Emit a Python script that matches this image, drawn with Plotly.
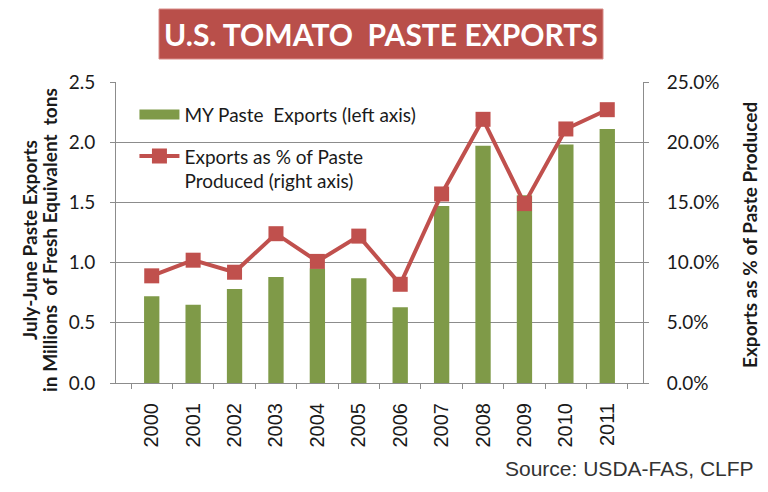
import plotly.graph_objects as go

years = ["2000", "2001", "2002", "2003", "2004", "2005", "2006", "2007", "2008", "2009", "2010", "2011"]
exports_mt = [0.72, 0.65, 0.78, 0.88, 0.95, 0.87, 0.63, 1.47, 1.97, 1.56, 1.98, 2.11]
exports_pct = [0.089, 0.102, 0.092, 0.124, 0.101, 0.122, 0.082, 0.157, 0.219, 0.149, 0.211, 0.227]

bar_name = "MY Paste\u00a0 Exports (left axis)"
line_name = "Exports as % of Paste<br>Produced (right axis)"
title_text = "U.S. TOMATO\u00a0 PASTE EXPORTS"
left_title = ["July-June Paste Exports", "in Millions\u00a0 of Fresh Equivalent\u00a0 tons"]
right_title = "Exports as % of Paste Produced"
source_text = "Source: USDA-FAS, CLFP"

GREEN = "#7F9A48"
RED = "#C0504D"
GRID = "#8C8C8C"
TXT = "#1a1a1a"

L, R, T, B = 116, 125, 82, 109
PW, PH = 768 - L - R, 492 - T - B


def px(x):
    return (x - L) / PW


def py(y):
    return (492 - B - y) / PH


fig = go.Figure()
fig.add_trace(go.Bar(
    x=years, y=exports_mt, name=bar_name, showlegend=False,
    marker=dict(color=GREEN, line=dict(width=0)), yaxis="y", legendgroup="a"
))
# legend swatch for the bars (wide rectangle as in the original legend)
fig.add_trace(go.Scatter(
    x=[None], y=[None], name=bar_name, mode="lines",
    line=dict(color=GREEN, width=11), yaxis="y", legendgroup="a"
))
fig.add_trace(go.Scatter(
    x=years, y=exports_pct, name=line_name,
    mode="lines+markers", line=dict(color=RED, width=4),
    marker=dict(symbol="square", size=15, color=RED), yaxis="y2", legendgroup="b"
))

fig.update_layout(
    width=768, height=492,
    margin=dict(l=L, r=R, t=T, b=B),
    paper_bgcolor="white", plot_bgcolor="white",
    bargap=0.63,
    font=dict(family="Lato", color=TXT),
    showlegend=True,
    legend=dict(
        x=0.035, y=0.955, xanchor="left", yanchor="top", traceorder="grouped",
        bgcolor="rgba(0,0,0,0)", font=dict(family="Lato", size=19, color=TXT),
        tracegroupgap=14, valign="top", itemwidth=40,
    ),
    xaxis=dict(
        type="category", tickangle=-90, tickson="boundaries", ticks="outside", ticklen=5,
        tickcolor=GRID, showline=True, linecolor=GRID, linewidth=1, ticklabelstandoff=11,
        tickfont=dict(family="Liberation Sans", size=20, color=TXT), showgrid=False,
    ),
    yaxis=dict(
        range=[0, 2.5], dtick=0.5, tickformat=".1f", ticks="outside", ticklen=5, tickcolor=GRID,
        showline=True, linecolor=GRID, gridcolor=GRID, gridwidth=1, zeroline=False,
        ticklabelstandoff=11,
        tickfont=dict(family="Lato", size=19, color=TXT),
    ),
    yaxis2=dict(
        overlaying="y", side="right", range=[0, 0.25], dtick=0.05, tickformat=".1%",
        ticks="outside", ticklen=5, tickcolor=GRID, showline=True, linecolor=GRID,
        showgrid=False, zeroline=False, ticklabelstandoff=14,
        tickfont=dict(family="Lato", size=19, color=TXT),
    ),
)

# axis titles
for xc, txt in zip([29, 49], left_title):
    fig.add_annotation(xref="paper", yref="paper", x=px(xc), y=py(240), text=txt,
                       textangle=-90, showarrow=False, xanchor="center", yanchor="middle",
                       font=dict(family="Lato", size=19, color=TXT, weight="bold"))
fig.add_annotation(xref="paper", yref="paper", x=px(749), y=py(235), text=right_title,
                   textangle=-90, showarrow=False, xanchor="center", yanchor="middle",
                   font=dict(family="Lato", size=19, color=TXT, weight="bold"))

# title banner
fig.add_shape(type="rect", xref="paper", yref="paper",
              x0=px(159), x1=px(603), y0=py(59), y1=py(9),
              fillcolor="#B94F4A", line=dict(color="#D88C88", width=1), layer="above")
fig.add_annotation(xref="paper", yref="paper", x=px(381), y=py(34),
                   text=title_text, showarrow=False,
                   font=dict(family="Lato", size=30, color="white", weight="bold"),
                   xanchor="center", yanchor="middle")
fig.add_annotation(xref="paper", yref="paper", x=px(756), y=py(468),
                   text=source_text, showarrow=False,
                   font=dict(family="Liberation Sans", size=21, color="#333333"),
                   xanchor="right", yanchor="middle")

fig.write_html("out.html")
